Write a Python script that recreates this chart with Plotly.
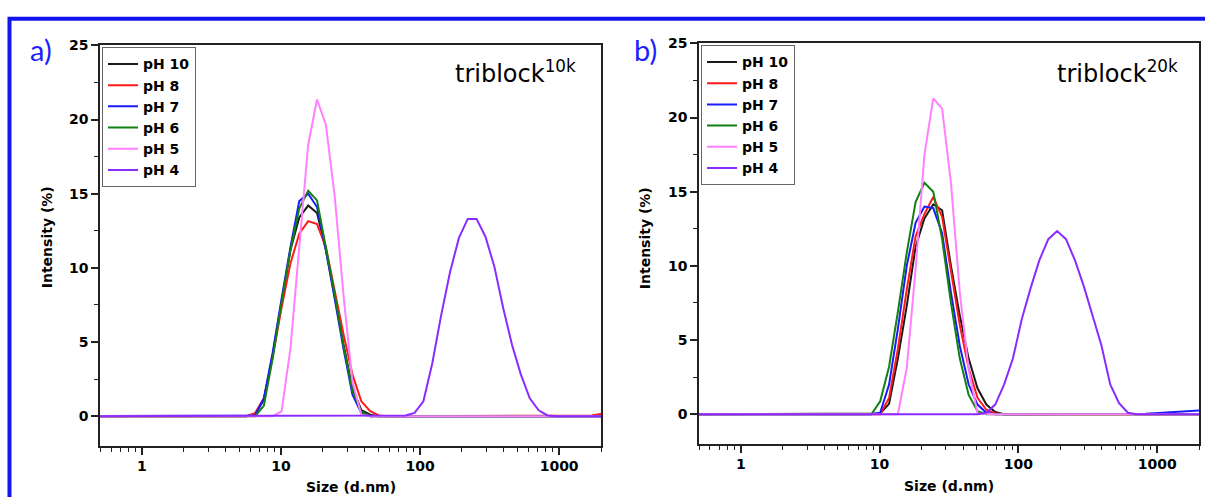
import math
import plotly.graph_objects as go

# DLS size classes (d.nm) shared by every distribution
SIZE_NM = [
    0.4, 0.4632, 0.5365, 0.6213, 0.7195, 0.8332, 0.9649, 1.117, 1.294, 1.499,
    1.736, 2.010, 2.328, 2.696, 3.122, 3.615, 4.187, 4.849, 5.615, 6.503,
    7.531, 8.721, 10.10, 11.70, 13.54, 15.69, 18.17, 21.04, 24.36, 28.21,
    32.67, 37.84, 43.82, 50.75, 58.77, 68.06, 78.82, 91.28, 105.7, 122.4,
    141.8, 164.2, 190.1, 220.2, 255.0, 295.3, 342.0, 396.1, 458.7, 531.2,
    615.1, 712.4, 825.0, 955.4, 1106, 1281, 1484, 1718, 1990, 2305,
]

SERIES_NAMES = ["pH 10", "pH 8", "pH 7", "pH 6", "pH 5", "pH 4"]
SERIES_COLORS = ["#1a1a1a", "#ff1a1a", "#1a1aff", "#118011", "#ff80ff", "#8a2bff"]

# Intensity (%) distributions, triblock 10k
TRI10K_PH10 = [
    0, 0, 0, 0, 0, 0, 0, 0, 0, 0,
    0, 0, 0, 0, 0, 0, 0, 0, 0, 0.1,
    1.1, 4.1, 7.7, 11.2, 13.4, 14.2, 13.7, 11.2, 8.1, 4.8,
    1.9, 0.4, 0.1, 0, 0, 0, 0, 0, 0, 0,
    0, 0, 0, 0, 0, 0, 0, 0, 0, 0,
    0, 0, 0, 0, 0, 0, 0, 0, 0, 0,
]
TRI10K_PH8 = [
    0, 0, 0, 0, 0, 0, 0, 0, 0, 0,
    0, 0, 0, 0, 0, 0, 0, 0, 0, 0.2,
    1.2, 4.0, 7.3, 10.3, 12.3, 13.15, 12.95, 11.4, 8.4, 5.5,
    2.8, 1.0, 0.33, 0.05, 0, 0, 0, 0, 0, 0,
    0, 0, 0, 0, 0, 0, 0, 0, 0, 0,
    0, 0, 0, 0, 0, 0, 0, 0.05, 0.15, 0.2,
]
TRI10K_PH7 = [
    0, 0, 0, 0, 0, 0, 0, 0, 0, 0,
    0, 0, 0, 0, 0, 0, 0, 0, 0, 0.05,
    1.2, 4.3, 7.9, 11.4, 14.5, 15.0, 14.1, 11.2, 7.9, 4.5,
    1.45, 0.22, 0, 0, 0, 0, 0, 0, 0, 0,
    0, 0, 0, 0, 0, 0, 0, 0, 0, 0,
    0, 0, 0, 0, 0, 0, 0, 0, 0, 0,
]
TRI10K_PH6 = [
    0, 0, 0, 0, 0, 0, 0, 0, 0, 0,
    0, 0, 0, 0, 0, 0, 0, 0, 0, 0,
    0.7, 3.9, 7.7, 11.2, 14.0, 15.2, 14.55, 11.4, 8.2, 4.7,
    1.7, 0.3, 0, 0, 0, 0, 0, 0, 0, 0,
    0, 0, 0, 0, 0, 0, 0, 0, 0, 0,
    0, 0, 0, 0, 0, 0, 0, 0, 0, 0,
]
TRI10K_PH5 = [
    0, 0, 0, 0, 0, 0, 0, 0, 0, 0,
    0, 0, 0, 0, 0, 0, 0, 0, 0, 0,
    0, 0, 0.33, 4.55, 11.4, 18.3, 21.35, 19.65, 14.8, 8.1,
    2.3, 0.1, 0, 0, 0, 0, 0, 0, 0, 0,
    0, 0, 0, 0, 0, 0, 0, 0, 0, 0,
    0, 0, 0, 0, 0, 0, 0, 0, 0, 0,
]
TRI10K_PH4 = [
    0, 0, 0, 0, 0, 0, 0, 0, 0, 0,
    0, 0, 0, 0, 0, 0, 0, 0, 0, 0,
    0, 0, 0, 0, 0, 0, 0, 0, 0, 0,
    0, 0, 0, 0, 0, 0, 0.05, 0.22, 1.0, 3.55,
    6.8, 9.7, 12.0, 13.3, 13.3, 12.1, 10.1, 7.3, 4.8, 2.8,
    1.2, 0.4, 0.05, 0, 0, 0, 0, 0, 0, 0,
]

# Intensity (%) distributions, triblock 20k
TRI20K_PH10 = [
    0, 0, 0, 0, 0, 0, 0, 0, 0, 0,
    0, 0, 0, 0, 0, 0, 0, 0, 0, 0,
    0, 0, 0.05, 0.7, 3.75, 7.3, 11.3, 13.2, 14.15, 13.75,
    10.0, 6.65, 3.75, 1.75, 0.65, 0.15, 0, 0, 0, 0,
    0, 0, 0, 0, 0, 0, 0, 0, 0, 0,
    0, 0, 0, 0, 0, 0, 0, 0, 0, 0,
]
TRI20K_PH8 = [
    0, 0, 0, 0, 0, 0, 0, 0, 0, 0,
    0, 0, 0, 0, 0, 0, 0, 0, 0, 0,
    0, 0, 0, 1.1, 4.4, 8.4, 12.0, 13.5, 14.65, 13.3,
    9.5, 6.0, 3.1, 1.1, 0.3, 0.05, 0, 0, 0, 0,
    0, 0, 0, 0, 0, 0, 0, 0, 0, 0,
    0, 0, 0, 0, 0, 0, 0, 0, 0, 0,
]
TRI20K_PH7 = [
    0, 0, 0, 0, 0, 0, 0, 0, 0, 0,
    0, 0, 0, 0, 0, 0, 0, 0, 0, 0,
    0, 0, 0.1, 2.0, 5.75, 10.0, 12.9, 14.0, 13.9, 12.2,
    8.2, 4.6, 2.0, 0.65, 0.1, 0, 0, 0, 0, 0,
    0, 0, 0, 0, 0, 0, 0, 0, 0, 0,
    0, 0, 0.03, 0.07, 0.1, 0.13, 0.17, 0.2, 0.25, 0.28,
]
TRI20K_PH6 = [
    0, 0, 0, 0, 0, 0, 0, 0, 0, 0,
    0, 0, 0, 0, 0, 0, 0, 0, 0, 0,
    0, 0, 0.87, 3.2, 6.9, 10.9, 14.3, 15.6, 15.0, 11.8,
    7.5, 3.75, 1.3, 0.2, 0, 0, 0, 0, 0, 0,
    0, 0, 0, 0, 0, 0, 0, 0, 0, 0,
    0, 0, 0, 0, 0, 0, 0, 0, 0, 0,
]
TRI20K_PH5 = [
    0, 0, 0, 0, 0, 0, 0, 0, 0, 0,
    0, 0, 0, 0, 0, 0, 0, 0, 0, 0,
    0, 0, 0, 0, 0, 3.1, 9.8, 17.5, 21.3, 20.6,
    15.6, 8.2, 3.0, 0.05, 0, 0, 0, 0, 0, 0,
    0, 0, 0, 0, 0, 0, 0, 0, 0, 0,
    0, 0, 0, 0, 0, 0, 0, 0, 0, 0,
]
TRI20K_PH4 = [
    0, 0, 0, 0, 0, 0, 0, 0, 0, 0,
    0, 0, 0, 0, 0, 0, 0, 0, 0, 0,
    0, 0, 0, 0, 0, 0, 0, 0, 0, 0,
    0, 0, 0, 0, 0.1, 0.65, 2.0, 3.75, 6.4, 8.5,
    10.4, 11.8, 12.35, 11.8, 10.4, 8.65, 6.65, 4.65, 2.0, 0.75,
    0.1, 0, 0, 0, 0, 0, 0, 0, 0, 0,
]

X_TICKS = [1, 10, 100, 1000]
X_TICK_TEXT = ["1", "10", "100", "1000"]
Y_TICKS = [0, 5, 10, 15, 20, 25]

PANELS = [
    dict(axis="", legend="legend", label="a)", sample="10k",
         series=[TRI10K_PH10, TRI10K_PH8, TRI10K_PH7, TRI10K_PH6, TRI10K_PH5, TRI10K_PH4]),
    dict(axis="2", legend="legend2", label="b)", sample="20k",
         series=[TRI20K_PH10, TRI20K_PH8, TRI20K_PH7, TRI20K_PH6, TRI20K_PH5, TRI20K_PH4]),
]

W, H = 1205, 497
FONT = "DejaVu Sans"
AX_COLOR = "#222222"


def px_x(p):
    return p / W


def px_y(p):
    return 1 - p / H


fig = go.Figure()
for panel in PANELS:
    for name, color, values in zip(SERIES_NAMES, SERIES_COLORS, panel["series"]):
        fig.add_trace(go.Scatter(
            x=SIZE_NM, y=values, name=name, mode="lines",
            line=dict(color=color, width=2),
            xaxis="x" + panel["axis"], yaxis="y" + panel["axis"],
            legend=panel["legend"],
        ))

tick_font = dict(family=FONT, size=14, color="black", weight="bold")

x_common = dict(
    type="log", range=[math.log10(0.5), math.log10(2000)],
    showgrid=False, zeroline=False, showline=True, mirror=True,
    linecolor=AX_COLOR, linewidth=1.5,
    ticks="outside", ticklen=7, tickwidth=1.5, tickcolor=AX_COLOR,
    tickmode="array", tickvals=X_TICKS, ticktext=X_TICK_TEXT,
    tickfont=tick_font,
    minor=dict(ticks="outside", ticklen=4, tickwidth=1.2, tickcolor=AX_COLOR,
               dtick="D1", showgrid=False),
)
y_common = dict(
    range=[-2, 25], showgrid=False, zeroline=False, showline=True, mirror=True,
    linecolor=AX_COLOR, linewidth=1.5,
    ticks="outside", ticklen=7, tickwidth=1.5, tickcolor=AX_COLOR,
    tickmode="array", tickvals=Y_TICKS,
    tickfont=tick_font,
    minor=dict(ticks="outside", ticklen=4, tickwidth=1.2, tickcolor=AX_COLOR,
               dtick=2.5, tick0=0, showgrid=False),
)

legend_common = dict(
    xanchor="left", yanchor="top", bgcolor="white",
    bordercolor="#666666", borderwidth=1,
    font=dict(family=FONT, size=14, color="black", weight="bold"),
    tracegroupgap=0,
)

fig.update_layout(
    width=W, height=H,
    margin=dict(l=0, r=0, t=0, b=0),
    paper_bgcolor="white", plot_bgcolor="white",
    showlegend=True,
    xaxis=dict(domain=[px_x(100), px_x(601)], anchor="y", **x_common),
    yaxis=dict(domain=[px_y(445), px_y(38)], anchor="x", **y_common),
    xaxis2=dict(domain=[px_x(699), px_x(1199)], anchor="y2", **x_common),
    yaxis2=dict(domain=[px_y(443), px_y(36)], anchor="x2", **y_common),
    legend=dict(x=px_x(102), y=px_y(40), **legend_common),
    legend2=dict(x=px_x(701), y=px_y(38), **legend_common),
)

# Outer blue frame around the figure panels
fig.add_shape(type="rect", xref="paper", yref="paper",
              x0=px_x(9.5), x1=1.05, y0=-0.05, y1=px_y(11),
              line=dict(color="#1414f0", width=4), fillcolor="rgba(0,0,0,0)")

annotations = []
panel_geo = [
    dict(label_x=41, sample_x=453, ytitle_x=47, ytitle_y=233, xtitle_x=351, xtitle_y=487),
    dict(label_x=645, sample_x=1055, ytitle_x=645, ytitle_y=234, xtitle_x=949, xtitle_y=486),
]
for panel, geo in zip(PANELS, panel_geo):
    annotations.append(dict(
        text=panel["label"], x=px_x(geo["label_x"]), y=px_y(42), xref="paper", yref="paper",
        xanchor="center", yanchor="middle", showarrow=False,
        font=dict(family="Lato", size=29, color="#1e1eff"),
    ))
    annotations.append(dict(
        text="triblock<sup>" + panel["sample"] + "</sup>",
        x=px_x(geo["sample_x"]), y=px_y(65), xref="paper", yref="paper",
        xanchor="left", yanchor="middle", showarrow=False,
        font=dict(family=FONT, size=24, color="black"),
    ))
    annotations.append(dict(
        text="Intensity (%)", x=px_x(geo["ytitle_x"]), y=px_y(geo["ytitle_y"]),
        xref="paper", yref="paper", textangle=-90,
        xanchor="center", yanchor="middle", showarrow=False,
        font=dict(family=FONT, size=14, color="black", weight="bold"),
    ))
    annotations.append(dict(
        text="Size (d.nm)", x=px_x(geo["xtitle_x"]), y=px_y(geo["xtitle_y"]),
        xref="paper", yref="paper",
        xanchor="center", yanchor="middle", showarrow=False,
        font=dict(family=FONT, size=14, color="black", weight="bold"),
    ))
fig.update_layout(annotations=annotations)

fig.write_html("out.html")
